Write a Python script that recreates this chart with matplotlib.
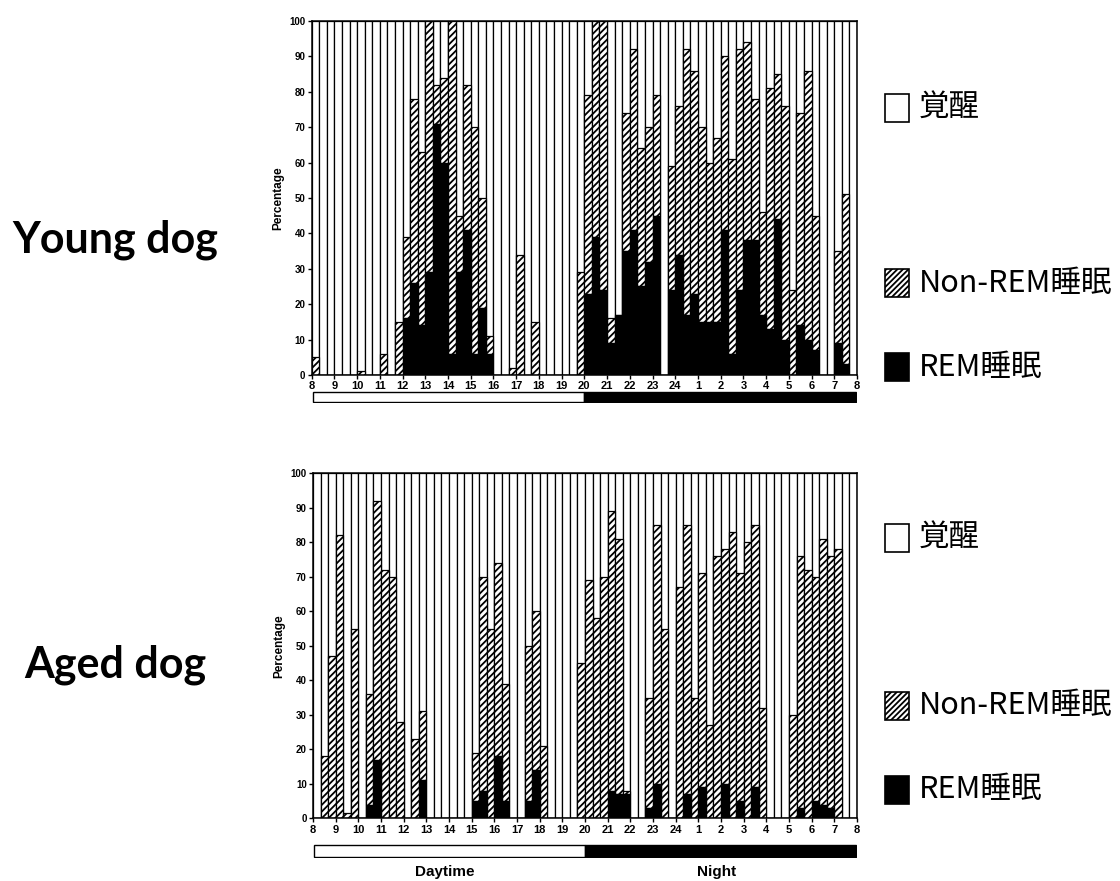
import matplotlib
matplotlib.use("Agg")
import matplotlib.pyplot as plt
from matplotlib.patches import Rectangle
import numpy as np

# 20-min epochs, 3 per hour, from 8:00 to 8:00 (72 bars)
hour_labels = ['8', '9', '10', '11', '12', '13', '14', '15', '16', '17', '18', '19',
               '20', '21', '22', '23', '24', '1', '2', '3', '4', '5', '6', '7', '8']
night_start_hour = 12   # 20:00 -> index in hour_labels

# top of the hatched part = Non-REM + REM (%), and REM (%)
young_sleep = [5, 0, 0, 0, 0, 0, 1, 0, 0, 6, 0, 15,
               39, 78, 63, 100, 82, 84, 100, 45, 82, 70, 50, 11,
               0, 0, 2, 34, 0, 15, 0, 0, 0, 0, 0, 29,
               79, 100, 100, 16, 17, 74, 92, 64, 70, 79, 0, 59,
               76, 92, 86, 70, 60, 67, 90, 61, 92, 94, 78, 46,
               81, 85, 76, 24, 74, 86, 45, 0, 0, 35, 51, 0]
young_rem = [0, 0, 0, 0, 0, 0, 0, 0, 0, 0, 0, 0,
             16, 26, 14, 29, 71, 60, 6, 29, 41, 6, 19, 6,
             0, 0, 0, 0, 0, 0, 0, 0, 0, 0, 0, 0,
             23, 39, 24, 9, 17, 35, 41, 25, 32, 45, 0, 24,
             34, 17, 23, 15, 15, 15, 41, 6, 24, 38, 38, 17,
             13, 44, 10, 0, 14, 10, 7, 0, 0, 9, 3, 0]

aged_sleep = [0, 18, 47, 82, 1.5, 55, 0, 36, 92, 72, 70, 28,
              0, 23, 31, 0, 0, 0, 0, 0, 0, 19, 70, 55,
              74, 39, 0, 0, 50, 60, 21, 0, 0, 0, 0, 45,
              69, 58, 70, 89, 81, 8, 0, 0, 35, 85, 55, 0,
              67, 85, 35, 71, 27, 76, 78, 83, 71, 80, 85, 32,
              0, 0, 0, 30, 76, 72, 70, 81, 76, 78, 0, 0]
aged_rem = [0, 0, 0, 0, 0, 0, 0, 4, 17, 0, 0, 0,
            0, 0, 11, 0, 0, 0, 0, 0, 0, 5, 8, 0,
            18, 5, 0, 0, 5, 14, 0, 0, 0, 0, 0, 0,
            0, 0, 0, 8, 7, 7, 0, 0, 3, 10, 0, 0,
            0, 7, 0, 9, 0, 0, 10, 0, 5, 0, 9, 0,
            0, 0, 0, 0, 3, 0, 5, 4, 3, 0, 0, 0]

legend_labels = ['覚醒', 'Non-REM睡眠', 'REM睡眠']
panel_titles = ['Young dog', 'Aged dog']

W, H = 1120, 881
plt.rcParams['hatch.linewidth'] = 1.3
fig = plt.figure(figsize=(W / 100, H / 100), dpi=100)

tick_font = dict(family='Liberation Sans', weight='bold')
cjk = ['Noto Sans CJK JP', 'DejaVu Sans']


def fx(px):
    return px / W


def fy(py):
    return 1 - py / H


def draw_panel(sleep, rem, ax_box, strip_box, title, title_y, legend_ys, show_daynight):
    ax = fig.add_axes(ax_box)
    sleep = np.array(sleep, dtype=float)
    rem = np.array(rem, dtype=float)
    x = np.arange(len(sleep)) + 0.5
    ax.bar(x, 100, width=1, color='white', edgecolor='black', linewidth=0.9)
    ax.bar(x, sleep - rem, bottom=rem, width=1, color='white', edgecolor='black',
           linewidth=0.9, hatch='/////')
    ax.bar(x, rem, width=1, color='black', edgecolor='black', linewidth=0.9)
    ax.set_xlim(0, len(sleep))
    ax.set_ylim(0, 100)
    ax.set_xticks(np.arange(0, len(sleep) + 1, 3))
    ax.set_xticklabels(hour_labels, fontsize=8, **tick_font)
    ax.set_yticks(np.arange(0, 101, 10))
    ax.set_yticklabels([str(v) for v in range(0, 101, 10)], fontsize=7, **tick_font)
    ax.tick_params(length=3, width=1, pad=1.5)
    for s in ax.spines.values():
        s.set_linewidth(1.1)
    ax.set_ylabel('Percentage', fontsize=8.5, labelpad=4, **tick_font)

    # day / night strip
    sx = fig.add_axes(strip_box)
    n_hours = len(hour_labels) - 1
    sx.barh(0, night_start_hour, left=0, height=1, color='white', edgecolor='black', linewidth=1)
    sx.barh(0, n_hours - night_start_hour, left=night_start_hour, height=1,
            color='black', edgecolor='black', linewidth=1)
    sx.set_xlim(-0.05, n_hours + 0.05)
    sx.set_ylim(-0.55, 0.55)
    sx.axis('off')
    if show_daynight:
        fig.text(fx(445), fy(872), 'Daytime', ha='center', va='center', fontsize=11, **tick_font)
        fig.text(fx(717), fy(872), 'Night', ha='center', va='center', fontsize=11, **tick_font)

    fig.text(fx(115), fy(title_y), title, ha='center', va='center', fontsize=31,
             family='Lato', weight='bold')

    # legend
    styles = [dict(facecolor='white', edgecolor='black', linewidth=1.2),
              dict(facecolor='white', edgecolor='black', linewidth=1.2, hatch='//////'),
              dict(facecolor='black', edgecolor='black', linewidth=1.2)]
    for lab, ly, st in zip(legend_labels, legend_ys, styles):
        fig.add_artist(Rectangle((fx(885), fy(ly + 14)), fx(24), 28 / H,
                                 transform=fig.transFigure, **st))
        fig.text(fx(919), fy(ly), lab, ha='left', va='center', fontsize=22, family=cjk)


draw_panel(young_sleep, young_rem,
           [fx(311.7), fy(375), fx(857) - fx(311.7), (375 - 21) / H],
           [fx(311.7), fy(403), fx(857) - fx(311.7), 12 / H],
           panel_titles[0], 240, [108, 283, 367], False)
draw_panel(aged_sleep, aged_rem,
           [fx(313), fy(818.3), fx(857) - fx(313), (818.3 - 473.3) / H],
           [fx(313), fy(858), fx(857) - fx(313), 14 / H],
           panel_titles[1], 665, [538, 706, 790], True)

fig.savefig('out.png', dpi=100)
